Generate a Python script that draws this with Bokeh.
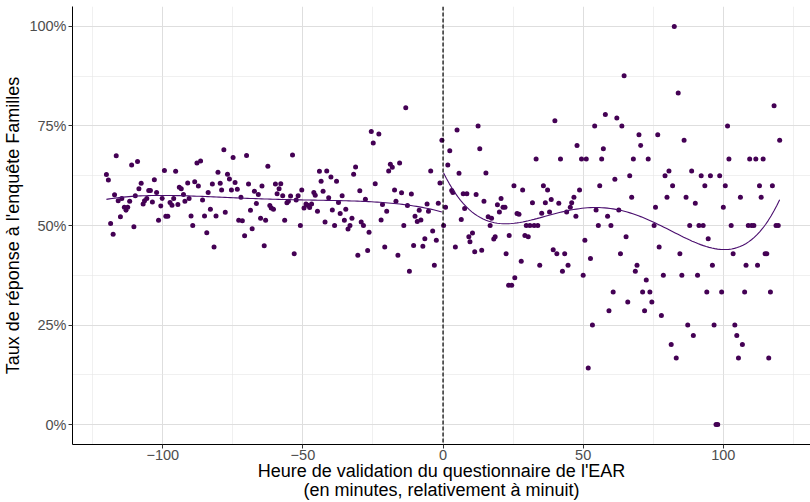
import numpy as np
from bokeh.plotting import figure
from bokeh.models import FixedTicker, Span, Range1d
from bokeh.embed import file_html
from bokeh.resources import INLINE

# ---- data ----
minutes_before = [-120.1,-119.4,-118.6,-117.7,-117.2,-116.6,-115.9,-115.1,-114.6,-113.7,
    -113.1,-112.5,-111.8,-111.1,-110.3,-109.8,-109.0,-108.5,-107.7,-107.0,
    -106.5,-105.7,-105.0,-104.4,-103.7,-103.0,-102.2,-101.5,-100.7,-100.2,
    -99.4,-98.9,-98.2,-97.4,-96.7,-96.1,-95.4,-94.6,-94.1,-93.4,
    -92.6,-92.1,-91.1,-90.6,-89.9,-89.3,-88.6,-87.8,-87.3,-86.5,
    -85.8,-85.1,-84.3,-83.8,-83.0,-82.3,-81.7,-81.0,-80.3,-79.5,
    -79.0,-78.2,-77.7,-76.9,-76.2,-75.5,-74.9,-74.2,-73.4,-72.9,
    -72.1,-71.6,-70.8,-70.1,-69.4,-68.7,-68.1,-67.3,-66.6,-65.9,
    -65.1,-64.6,-63.8,-63.3,-62.5,-61.8,-61.3,-60.5,-59.8,-59.2,
    -58.5,-57.9,-57.2,-56.5,-55.7,-55.2,-54.4,-53.7,-53.1,-52.4,
    -51.7,-50.9,-50.4,-49.6,-48.9,-48.3,-47.6,-46.9,-46.1,-45.6,
    -44.8,-44.1,-43.5,-42.8,-42.1,-41.5,-40.8,-40.0,-39.5,-38.7,
    -38.0,-37.3,-36.7,-36.0,-35.2,-34.7,-33.9,-33.2,-32.5,-31.9,
    -31.2,-30.4,-29.7,-29.2,-28.4,-27.7,-26.9,-26.4,-25.6,-24.9,
    -24.2,-22.9,-22.1,-21.6,-20.8,-20.1,-19.4,-18.8,-18.1,-17.3,
    -16.8,-16.1,-15.5,-14.8,-14.0,-13.3,-12.7,-12.0,-11.3,-10.5,
    -10.0,-9.2,-8.5,-7.9,-7.2,-6.5,-5.7,-5.2,-4.4,-3.7,
    -3.1,-2.4,-1.7,-1.1,-0.4]
rate_before = [62.8,61.4,50.5,47.8,57.7,67.5,56.2,52.2,56.8,54.6,
    53.8,54.6,56.1,65.2,49.7,57.5,66.1,59.2,60.6,55.4,
    56.2,56.8,58.8,58.8,55.9,61.5,58.3,51.3,54.9,56.8,
    63.8,52.3,52.3,55.8,55.1,56.8,63.6,55.3,59.6,59.2,
    57.8,56.1,60.7,56.8,52.4,50.0,61.0,65.7,59.9,66.2,
    56.4,52.4,48.2,58.3,54.1,60.4,44.6,52.4,63.4,60.6,
    58.9,69.0,53.3,62.9,61.7,58.9,67.1,60.8,59.1,51.3,
    57.1,51.2,47.4,67.6,60.4,53.8,49.2,58.6,55.5,57.8,
    51.8,59.9,44.9,51.3,64.9,55.0,54.4,54.1,60.4,58.0,
    59.2,60.5,57.5,51.3,55.7,56.1,57.4,67.7,42.9,56.4,
    57.5,50.0,58.9,54.4,55.4,55.1,54.5,55.4,58.3,57.6,
    53.6,63.6,61.1,58.6,50.9,63.7,57.0,62.2,53.9,50.0,
    61.1,55.8,53.0,57.5,51.3,54.1,49.1,50.0,51.8,62.9,
    64.7,42.5,58.7,50.9,50.0,56.6,43.7,48.3,73.6,70.7,
    60.5,73.0,51.4,55.3,44.6,53.6,63.7,65.4,64.6,58.9,
    56.1,42.5,65.7,58.2,50.0,79.6,55.0,38.5,57.9,45.0,
    52.3,51.0,53.8,51.4,44.8,46.7,55.4,53.6,63.7,48.6,
    40.0,46.3,55.6,60.7,71.4]

minutes_after = [0.2,0.9,1.7,2.4,3.1,3.5,4.4,5.0,5.7,6.5,
    7.2,7.7,8.5,9.2,9.6,10.5,11.3,11.8,12.5,13.1,
    13.8,14.6,15.3,16.1,16.8,17.3,18.1,18.6,19.4,20.1,
    20.7,21.4,22.1,22.5,23.4,23.6,24.5,25.3,25.6,26.4,
    27.1,27.9,28.4,29.2,29.7,30.4,31.0,31.9,32.5,33.2,
    33.8,34.5,35.2,35.8,36.5,37.3,38.0,38.6,39.3,39.9,
    40.6,41.3,41.9,42.6,43.4,44.1,44.6,45.4,45.9,46.7,
    47.4,47.8,48.7,49.4,50.0,50.6,51.1,51.8,52.6,53.3,
    54.1,54.6,55.4,55.9,56.6,57.2,57.9,58.7,59.2,59.9,
    60.7,61.3,62.0,62.7,63.3,63.8,64.6,65.3,65.9,66.6,
    67.3,67.9,68.6,69.2,69.9,70.5,71.2,71.9,72.5,73.2,
    73.8,74.5,75.3,75.8,76.6,77.1,77.9,78.6,79.2,79.9,
    80.6,81.4,81.9,82.5,83.2,83.9,84.5,85.2,86.0,86.7,
    87.3,88.0,88.7,89.3,90.0,90.8,91.3,92.1,92.8,93.4,
    94.1,94.6,95.4,96.1,96.7,97.4,98.0,98.7,99.4,100.0,
    100.7,101.5,102.0,102.8,103.5,104.1,104.8,105.4,106.1,106.8,
    107.6,108.1,108.9,109.4,110.1,110.9,111.6,112.2,112.9,113.5,
    114.2,114.9,115.5,116.2,116.8,117.5,118.1,118.8,119.6,120.1]
rate_after = [50.0,54.6,65.2,68.8,58.8,58.3,44.6,74.0,63.1,51.5,
    58.0,54.3,58.0,47.2,45.9,48.1,43.4,57.8,75.0,69.3,
    43.8,56.1,63.2,52.2,50.0,51.8,46.6,47.2,55.2,53.4,
    56.8,54.6,54.6,42.9,35.0,47.5,35.0,60.0,36.9,53.0,
    52.8,41.0,58.9,47.5,50.0,47.2,50.0,55.7,50.0,66.7,
    50.0,40.0,53.1,60.0,55.7,58.9,53.4,56.5,43.9,76.3,
    42.9,55.6,66.7,38.5,42.9,53.4,40.0,54.6,55.7,57.1,
    52.3,70.1,58.9,66.7,37.5,46.3,66.7,14.2,41.7,25.0,
    75.0,53.9,50.0,60.0,66.7,69.3,77.9,52.3,28.6,50.0,
    33.3,61.6,77.0,53.9,42.9,75.0,87.6,47.2,30.8,62.5,
    57.1,66.7,38.5,40.0,72.8,70.1,33.3,28.6,36.3,66.7,
    33.3,30.8,50.0,54.6,72.8,44.6,27.4,37.5,62.5,57.1,
    63.7,20.1,60.0,100.0,16.7,83.3,42.9,37.5,71.4,57.1,
    25.0,50.0,63.7,22.4,55.6,37.5,50.0,62.5,50.0,60.0,
    33.3,46.7,62.5,40.0,25.0,0.0,0.0,62.5,33.3,54.6,
    60.0,75.0,66.7,50.0,42.9,25.0,22.4,16.7,57.1,20.1,
    33.3,40.0,50.0,66.7,50.0,50.0,66.7,40.0,60.0,57.1,
    66.7,42.9,42.9,16.7,33.3,60.0,80.1,50.0,50.0,71.4]

x_ticks = [-100, -50, 0, 50, 100]
x_tick_labels = ["\u2212100", "\u221250", "0", "50", "100"]
y_ticks = [0, 25, 50, 75, 100]
y_tick_labels = ["0%", "25%", "50%", "75%", "100%"]

POINT = "#440154"
FONT = "Liberation Sans"


def poly_smooth(x, y, grid, degree=4):
    """Least-squares polynomial fit (one per side of the cutoff)."""
    coefs = np.polyfit(np.asarray(x, float), np.asarray(y, float), degree)
    return np.polyval(coefs, grid)


p = figure(width=810, height=502, output_backend="svg", toolbar_location=None,
           x_range=Range1d(-132.2, 131.1), y_range=Range1d(-5, 105),
           min_border_left=72, min_border_right=0, min_border_top=6,
           min_border_bottom=58)
p.outline_line_color = None
p.background_fill_color = "white"
p.border_fill_color = "white"

# grid
p.xaxis.ticker = FixedTicker(ticks=x_ticks, minor_ticks=[-125, -75, -25, 25, 75, 125])
p.yaxis.ticker = FixedTicker(ticks=y_ticks, minor_ticks=[12.5, 37.5, 62.5, 87.5])
for g in (p.xgrid, p.ygrid):
    g.grid_line_color = "#dedede"
    g.grid_line_width = 1
    g.minor_grid_line_color = "#e6e6e6"
    g.minor_grid_line_width = 0.6

# axes
p.xaxis.major_label_overrides = {t: l for t, l in zip(x_ticks, x_tick_labels)}
p.yaxis.major_label_overrides = {t: l for t, l in zip(y_ticks, y_tick_labels)}
for ax in (p.xaxis, p.yaxis):
    ax.axis_line_color = "black"
    ax.axis_line_width = 1
    ax.major_tick_line_color = "#333333"
    ax.major_tick_in = 0
    ax.major_tick_out = 4
    ax.minor_tick_line_color = None
    ax.major_label_text_font = FONT
    ax.major_label_text_font_size = "14.5px"
    ax.major_label_text_color = "#4d4d4d"
    ax.major_label_standoff = 2
    ax.axis_label_text_font = FONT
    ax.axis_label_text_font_size = "18px"
    ax.axis_label_text_font_style = "normal"
    ax.axis_label_text_color = "black"
p.yaxis.axis_label_standoff = 3
p.xaxis.axis_label = "Heure de validation du questionnaire de l'EAR\n(en minutes, relativement à minuit)"
p.xaxis.axis_label_text_line_height = 0.95
p.xaxis.axis_label_standoff = -2
p.xaxis.major_label_standoff = 1
p.yaxis.axis_label = "Taux de réponse à l'enquête Familles"

# cutoff
p.add_layout(Span(location=0, dimension="height", line_color="black",
                  line_dash="4 2", line_width=1.2))

# points
p.scatter(minutes_before, rate_before, size=5, fill_color=POINT, line_color=None)
p.scatter(minutes_after, rate_after, size=5, fill_color=POINT, line_color=None)

# polynomial smooths, one per side of the cutoff
gb = np.linspace(min(minutes_before), max(minutes_before), 120)
ga = np.linspace(min(minutes_after), max(minutes_after), 120)
p.line(gb, poly_smooth(minutes_before, rate_before, gb), line_color="#4a0e6e", line_width=1.1)
p.line(ga, poly_smooth(minutes_after, rate_after, ga), line_color="#4a0e6e", line_width=1.1)

open("out.html", "w").write(file_html(p, INLINE))
